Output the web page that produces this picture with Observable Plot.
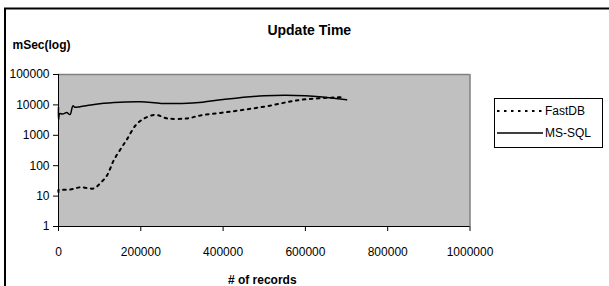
<!DOCTYPE html>
<html>
<head>
<meta charset="utf-8">
<script src="https://cdn.jsdelivr.net/npm/d3@7"></script>
<script src="https://cdn.jsdelivr.net/npm/@observablehq/plot@0.6"></script>
<style>
  html, body { margin: 0; padding: 0; background: #fff; }
  svg { display: block; }
</style>
</head>
<body>
<div id="chart"></div>
<script>
// Data
const title = "Update Time";
const yLabel = "mSec(log)";
const xLabel = "# of records";
const seriesNames = ["FastDB", "MS-SQL"];

const fastRecords = [0, 0, 3000, 29000, 53000, 86000, 102000, 118000, 134000, 155000, 167000, 187000, 207000, 236000, 264000, 313000, 345000, 426000, 507000, 589000, 690000];
const fastTimes   = [13.5, 16, 16, 16.5, 19.5, 18, 27, 48, 148, 430, 760, 2100, 3500, 4700, 3600, 3600, 4500, 6200, 9100, 14700, 18000];

const sqlRecords = [0, 0, 3000, 10000, 20000, 28000, 35000, 40000, 50000, 70000, 100000, 150000, 200000, 250000, 300000, 350000, 400000, 500000, 600000, 700000];
const sqlTimes   = [8300, 3300, 5200, 5000, 5600, 4800, 9300, 8400, 8600, 9500, 11000, 12300, 12700, 11200, 11200, 12300, 15000, 20000, 20000, 14700];

const xTicks = [0, 200000, 400000, 600000, 800000, 1000000];
const yTicks = [1, 10, 100, 1000, 10000, 100000];

const fastData = fastRecords.map((x, i) => ({x, y: fastTimes[i]}));
const sqlData = sqlRecords.map((x, i) => ({x, y: sqlTimes[i]}));

const font = "'Liberation Sans', Arial, sans-serif";
const dotted = "2.5,4.5";

const plot = Plot.plot({
  width: 609,
  height: 286,
  marginLeft: 58,
  marginRight: 139.5,
  marginTop: 74,
  marginBottom: 60,
  style: { fontFamily: font, fontSize: "12px", color: "#000", background: "#fff" },
  x: { domain: [0, 1000000], ticks: xTicks, tickFormat: d3.format("d"), label: null },
  y: { type: "log", domain: [1, 100000], ticks: yTicks, tickFormat: d3.format("d"), label: null },
  marks: [
    Plot.frame({ fill: "#c0c0c0", stroke: null }),
    Plot.ruleY([100000], { stroke: "#808080", strokeWidth: 1.5 }),
    Plot.ruleX([1000000], { stroke: "#808080", strokeWidth: 1.5 }),
    Plot.ruleX([0], { stroke: "#000" }),
    Plot.ruleY([1], { stroke: "#000" }),
    Plot.axisX({ ticks: xTicks, tickFormat: d3.format("d"), tickSize: 5, tickPadding: 16, label: null, stroke: "#000" }),
    Plot.axisY({ ticks: yTicks, tickFormat: d3.format("d"), tickSize: 5, tickPadding: 4, label: null, stroke: "#000" }),
    Plot.line(sqlData, { x: "x", y: "y", stroke: "#000", strokeWidth: 1.5, curve: "catmull-rom" }),
    Plot.line(fastData, { x: "x", y: "y", stroke: "#000", strokeWidth: 2, strokeDasharray: dotted, curve: "catmull-rom" }),
    Plot.text([title], { frameAnchor: "top", dx: 45, dy: -49, fontSize: 14, fontWeight: "bold" }),
    Plot.text([yLabel], { frameAnchor: "top-left", dx: -46, dy: -34, textAnchor: "start", fontSize: 12, fontWeight: "bold" }),
    Plot.text([xLabel], { frameAnchor: "bottom", dx: -2, dy: 57, fontSize: 12, fontWeight: "bold" })
  ]
});

const svg = d3.select(plot);

// outer chart-area border (top and left visible)
svg.append("path").attr("d", "M5,286V8.5H609").attr("fill", "none").attr("stroke", "#000").attr("stroke-width", 2);

// legend
const lg = svg.append("g").attr("font-family", font).attr("font-size", 12).attr("text-anchor", "start");
lg.append("rect").attr("x", 494.5).attr("y", 98.5).attr("width", 108).attr("height", 49)
  .attr("fill", "#fff").attr("stroke", "#000").attr("stroke-width", 1);
const legendStyles = [
  { dash: dotted, width: 2, y: 111 },
  { dash: null, width: 1.5, y: 133 }
];
seriesNames.forEach((name, i) => {
  const s = legendStyles[i];
  const ln = lg.append("line").attr("x1", 497).attr("x2", 543).attr("y1", s.y).attr("y2", s.y)
    .attr("stroke", "#000").attr("stroke-width", s.width);
  if (s.dash) ln.attr("stroke-dasharray", s.dash);
  lg.append("text").attr("x", 545).attr("y", s.y).attr("dy", "0.35em").text(name);
});

document.getElementById("chart").appendChild(plot);
</script>
</body>
</html>
